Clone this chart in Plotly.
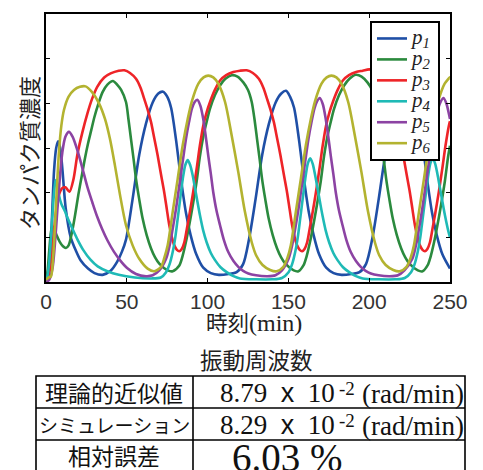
import plotly.graph_objects as go

# ---- data (time in min, concentration in axis units) ----
p1_t = [0,1.5,3,5,6.3,7.5,8.8,10.2,12.2,15.3,18.5,21.5,26,30,35,40,44,47,
        49.5,53.6,57.7,61.9,66,69.5,72.4,75,77.4,80.4,83.5,86.6,89.5,93,97.3,102,107,113,118,122,
        125.6,129.7,133.8,138,142.1,145.6,148.5,151,153.5,156.5,159.6,162.7,165.6,169,173.4,178,183,189,194,198,
        201.8,205.9,210,214.2,218.3,221.8,224.7,227.3,229.7,232.7,235.8,238.9,241.8,245.3,250]
p1_v = [0.05,0.3,0.9,2.5,3.0,3.15,3.0,2.5,1.65,1.0,0.7,0.48,0.3,0.2,0.16,0.25,0.45,0.68,
        0.95,1.86,2.85,3.55,4.02,4.22,4.26,4.15,3.9,3.2,2.31,1.55,1.05,0.62,0.32,0.2,0.16,0.18,0.22,0.4,
        0.95,1.86,2.85,3.55,4.02,4.22,4.28,4.15,3.9,3.2,2.31,1.55,1.05,0.62,0.32,0.2,0.16,0.18,0.22,0.4,
        0.95,1.86,2.85,3.55,4.02,4.22,4.26,4.15,3.9,3.2,2.31,1.55,1.05,0.62,0.3]

p2_t = [0,1,2,3,3.9,5,6.5,8.5,10.5,12.3,14,16,18,20,22,24,26,28,30,32.5,35,38,41.5,44,46.5,49.5,51,52.6,54.2,55.7,57.7,59.8,62.3,65,67.5,70.1,75.3,78.4,
        82.5,84.5,86.6,88.5,90.5,93.2,95.2,97.3,99.5,101.5,104.5,107.7,111,114.9,118.5,122.1,125,127.3,129,130.6,132.2,133.7,135.7,137.8,140.3,143,145.5,148.1,153.3,156.2,
        159.3,161.3,163.4,165.3,167.3,170,172,174.1,176.3,178.3,181.3,184.5,187.8,191.7,195.3,198.9,201.8,204.1,205.8,207.4,209,210.5,212.5,214.6,217.1,219.8,222.3,224.9,230.1,233,
        236.1,238.1,240.2,242.1,244.1,246.8,248.8,250]
p2_v = [0.0,0.25,0.7,1.1,1.24,1.2,1.05,0.9,0.8,0.76,0.82,1.1,1.5,1.95,2.35,2.75,3.1,3.4,3.7,4.0,4.25,4.42,4.5,4.42,4.3,4.03,3.65,3.2,2.75,2.31,1.85,1.42,1.05,0.75,0.55,0.41,0.26,0.24,
        0.37,0.58,0.9,1.25,1.65,2.25,2.8,3.25,3.6,3.88,4.18,4.4,4.55,4.63,4.6,4.47,4.3,4.03,3.65,3.2,2.75,2.31,1.85,1.42,1.05,0.75,0.55,0.41,0.26,0.24,
        0.37,0.58,0.9,1.25,1.65,2.25,2.8,3.25,3.6,3.88,4.18,4.4,4.55,4.64,4.6,4.47,4.3,4.03,3.65,3.2,2.75,2.31,1.85,1.42,1.05,0.75,0.55,0.41,0.26,0.24,
        0.37,0.58,0.9,1.25,1.65,2.25,2.8,3.05]

p3_t = [0,2,4,6,8,10,12,14.5,17,19.4,22.5,25.6,28.5,31.7,36,40,45,48.5,52,55.7,58.5,60.8,63,65,67,69.1,71.2,73.2,74.8,76.3,77.9,79.4,81,82.5,84,85.6,87.2,88.7,91,93.2,95.2,97.3,99.4,101.5,104.5,107.7,111.5,115.9,120,124.2,
        128,131.7,134.5,136.8,139,141,143,145.1,147.2,149.2,150.8,152.3,153.9,155.4,157,158.5,160,161.6,163.2,164.7,167,169.2,171.2,173.3,175.4,177.5,180.5,183.7,187.5,191.9,196,200.2,
        204,207.7,210.5,212.8,215,217,219,221.1,223.2,225.2,226.8,228.3,229.9,231.4,233,234.5,236,237.6,239.2,240.7,243,245.2,247.2,249.3,250]
p3_v = [0.0,0.2,0.8,1.5,1.95,2.1,2.12,2.02,2.3,2.85,3.35,3.77,4.1,4.37,4.58,4.67,4.73,4.74,4.68,4.55,4.35,4.1,3.85,3.58,3.22,2.83,2.4,2.0,1.62,1.27,1.0,0.82,0.72,0.69,0.74,0.89,1.2,1.5,2.0,2.53,3.05,3.5,3.8,4.03,4.3,4.51,4.63,4.7,4.73,4.74,
        4.68,4.55,4.35,4.1,3.85,3.58,3.22,2.83,2.4,2.0,1.62,1.27,1.0,0.82,0.72,0.69,0.74,0.89,1.2,1.5,2.0,2.53,3.05,3.5,3.8,4.03,4.3,4.51,4.63,4.7,4.73,4.76,
        4.68,4.55,4.35,4.1,3.85,3.58,3.22,2.83,2.4,2.0,1.62,1.27,1.0,0.82,0.72,0.69,0.74,0.89,1.2,1.5,2.0,2.53,3.05,3.5,3.6]

p4_t = [0,1,2,3,4,5,6,7,8,9.5,11.5,13.5,16,19.5,23,27.5,32,38,45,55,65,71,
        74.3,76.5,78.4,80,81.5,83,84.6,86.2,87.7,89.2,90.7,92.2,93.8,95.3,97.3,99.4,102,104.6,108,111.8,116,120,130,140,146,
        150.1,152.3,154.2,155.8,157.3,158.8,160.4,162,163.5,165,166.5,168,169.6,171.1,173.1,175.2,177.8,180.4,183.8,187.6,191.8,196,206,216,222,
        225.9,228.1,230,231.6,233.1,234.6,236.2,237.8,239.3,240.8,242.3,243.8,245.4,246.9,248.9,250]
p4_v = [0.02,0.15,0.45,0.95,1.5,2.0,2.28,2.2,1.95,1.75,1.6,1.42,1.22,0.95,0.72,0.5,0.35,0.24,0.16,0.1,0.08,0.1,
        0.22,0.4,0.67,1.0,1.42,1.85,2.3,2.62,2.73,2.62,2.4,2.1,1.78,1.49,1.15,0.89,0.65,0.49,0.33,0.22,0.13,0.08,0.06,0.06,0.09,
        0.22,0.4,0.67,1.0,1.42,1.85,2.3,2.65,2.77,2.65,2.4,2.1,1.78,1.49,1.15,0.89,0.65,0.49,0.33,0.22,0.13,0.08,0.06,0.06,0.09,
        0.22,0.4,0.67,1.0,1.42,1.85,2.3,2.65,2.77,2.65,2.4,2.1,1.78,1.49,1.15,1.0]

p5_t = [0,2,4,5.5,7,8.5,10.1,12,14.2,16.5,19.4,22.5,25.6,28.7,31.7,34.8,37.9,42,46,50,55.7,61.9,66,70.1,
        74.3,76.4,78.4,80.5,82.5,84.6,86.6,88.5,90.3,92,93.6,95.5,97.3,98.9,100.4,102,103.5,105.5,107.7,110,112.8,116,119,122,125.2,130,137,142,146,
        150.1,152.2,154.2,156.3,158.3,160.4,162.4,164.3,166.1,167.8,169.4,171.3,173.1,174.7,176.2,177.8,179.3,181.3,183.5,185.8,188.6,191.8,194.8,197.8,201,205.8,212.8,217.8,221.8,
        226.7,228.8,230.8,232.9,234.9,237,239,240.9,242.7,244.4,246,247.9,249.7,250]
p5_v = [0.0,0.05,0.3,0.85,1.6,2.3,2.9,3.25,3.36,3.25,2.95,2.55,2.13,1.78,1.46,1.18,0.94,0.68,0.48,0.32,0.18,0.13,0.15,0.26,
        0.52,0.8,1.19,1.65,2.16,2.7,3.2,3.58,3.88,4.03,4.08,3.95,3.65,3.25,2.83,2.42,2.01,1.6,1.27,0.95,0.67,0.47,0.34,0.25,0.19,0.15,0.13,0.15,0.26,
        0.52,0.8,1.19,1.65,2.16,2.7,3.2,3.58,3.88,4.05,4.12,3.98,3.65,3.25,2.83,2.42,2.01,1.6,1.27,0.95,0.67,0.47,0.34,0.25,0.19,0.15,0.13,0.15,0.26,
        0.52,0.8,1.19,1.65,2.16,2.7,3.2,3.58,3.88,4.05,4.12,3.98,3.7,3.65]

p6_t = [0,1.5,3,4.5,6,8,9.5,11.1,14,17.3,21,24.5,28.5,32.8,36.5,39.6,42.7,45.8,49.5,53.6,57.7,62.9,67,71.2,
        73.3,75.3,78.4,81.5,84.6,87.7,90.3,94.3,97.5,100.4,103.5,106.6,110.8,114.9,119,123.1,127.3,130,134,138.7,142.7,146.9,
        149.5,151.5,154.6,157.7,160.8,163.9,166.5,170.5,173.7,176.6,179.7,182.8,187,191.1,195.2,199.3,203.5,206.2,210.2,214.9,218.9,223.1,
        225.7,227.7,230.8,233.9,237,240.1,242.7,246.7,249.9,250]
p6_v = [0.05,0.1,0.12,0.6,1.6,2.9,3.5,3.85,4.15,4.3,4.37,4.38,4.25,4.0,3.65,3.2,2.6,1.95,1.27,0.82,0.52,0.3,0.24,0.34,
        0.55,0.82,1.57,2.31,3.06,3.65,4.05,4.44,4.58,4.62,4.58,4.44,4.03,3.28,2.46,1.57,0.89,0.6,0.38,0.27,0.24,0.34,
        0.55,0.82,1.57,2.31,3.06,3.65,4.05,4.44,4.58,4.62,4.58,4.44,4.03,3.28,2.46,1.57,0.89,0.6,0.38,0.27,0.24,0.34,
        0.55,0.82,1.57,2.31,3.06,3.65,4.05,4.44,4.58,4.58]

series_names = ["1", "2", "3", "4", "5", "6"]
series_colors = ["#1f4fa6", "#2b8a3e", "#ee2428", "#1fbab6", "#8c43a3", "#b3b330"]
series_t = [p1_t, p2_t, p3_t, p4_t, p5_t, p6_t]
series_v = [p1_v, p2_v, p3_v, p4_v, p5_v, p6_v]

x_ticks = [0, 50, 100, 150, 200, 250]
y_ticks = [1, 2, 3, 4, 5]

table_title = "振動周波数"
row_labels = ["理論的近似値", "シミュレーション", "相対誤差"]
freq_values = ["8.79", "8.29"]
freq_exponent = "-2"
freq_unit = "(rad/min)"
rel_error = "6.03"

# ---- geometry helpers (pixel -> paper) ----
W, H = 483, 470
L, R, T, B = 46, 450, 14, 282
def px(x):
    return (x - L) / (R - L)
def py(y):
    return (B - y) / (B - T)

fig = go.Figure()
for name, col, t, v in zip(series_names, series_colors, series_t, series_v):
    fig.add_trace(go.Scatter(
        x=t, y=v, mode="lines", line=dict(color=col, width=2.6, shape="spline", smoothing=0.8),
        name=f"<span style='font-size:21px'><i>p<sub>{name}</sub></i></span>"))

JP = "Noto Sans CJK JP"
SERIF = "Liberation Serif"
SANS = "Liberation Sans"

fig.update_layout(
    width=W, height=H,
    margin=dict(l=L, r=W - R, t=T, b=H - B),
    paper_bgcolor="white", plot_bgcolor="white",
    showlegend=True,
    legend=dict(x=px(370), y=py(21), xanchor="left", yanchor="top",
                bgcolor="white", bordercolor="black", borderwidth=2,
                font=dict(family=SERIF, size=13.8, color="#222"),
                tracegroupgap=0, itemwidth=30),
    xaxis=dict(range=[0, 250], tickvals=x_ticks, ticks="inside", ticklen=4, tickwidth=1,
               tickcolor="black", showline=True, linecolor="black", linewidth=1.5,
               mirror="ticks", showgrid=False, zeroline=False,
               tickfont=dict(family=SANS, size=21, color="#333")),
    yaxis=dict(range=[0, 6], tickvals=y_ticks, showticklabels=False, ticks="inside", ticklen=4,
               tickwidth=1, tickcolor="black", showline=True, linecolor="black", linewidth=1.5,
               mirror="ticks", showgrid=False, zeroline=False),
)

ann = []
# axis titles
ann.append(dict(x=px(254), y=py(321), xref="paper", yref="paper", showarrow=False,
                text=f"時刻<span style='font-family:{SERIF};font-size:24px'>(min)</span>",
                font=dict(family=JP, size=21.5, color="#222"), xanchor="center", yanchor="middle"))
ann.append(dict(x=px(28), y=py(153), xref="paper", yref="paper", showarrow=False,
                text="タンパク質濃度", textangle=-90,
                font=dict(family=JP, size=22, color="#222"), xanchor="center", yanchor="middle"))
# table title
ann.append(dict(x=px(256), y=py(359), xref="paper", yref="paper", showarrow=False,
                text=table_title, font=dict(family=JP, size=22.5, color="#222"),
                xanchor="center", yanchor="middle"))
# table rows
row_y = [392, 424, 455]
row_sizes = [23, 19, 23]
for lab, yy, fs in zip(row_labels, row_y, row_sizes):
    ann.append(dict(x=px(114), y=py(yy), xref="paper", yref="paper", showarrow=False,
                    text=lab, font=dict(family=JP, size=fs, color="#111"),
                    xanchor="center", yanchor="middle"))
for val, yy in zip(freq_values, row_y[:2]):
    ann.append(dict(x=px(218), y=py(yy + 1), xref="paper", yref="paper", showarrow=False,
                    text=f"{val}&nbsp; <span style='font-family:{SANS}'>x</span>&nbsp; 10",
                    font=dict(family=SERIF, size=27, color="#111"),
                    xanchor="left", yanchor="middle"))
    ann.append(dict(x=px(337), y=py(yy - 4), xref="paper", yref="paper", showarrow=False,
                    text=freq_exponent, font=dict(family=SERIF, size=19, color="#111"),
                    xanchor="left", yanchor="middle"))
    ann.append(dict(x=px(360), y=py(yy + 2), xref="paper", yref="paper", showarrow=False,
                    text=freq_unit, font=dict(family=SERIF, size=27, color="#111"),
                    xanchor="left", yanchor="middle"))
ann.append(dict(x=px(287), y=py(457), xref="paper", yref="paper", showarrow=False,
                text=f"{rel_error} %", font=dict(family=SERIF, size=39, color="#111"),
                xanchor="center", yanchor="middle"))
fig.update_layout(annotations=ann)

# table frame
shapes = []
lw = 1.6
tx0, tx1, tcol = px(36), px(465), px(193)
ty = [py(376), py(408), py(440), py(472)]
shapes.append(dict(type="rect", xref="paper", yref="paper", x0=tx0, x1=tx1, y0=ty[3], y1=ty[0],
                   line=dict(color="black", width=lw)))
for yline in ty[1:3]:
    shapes.append(dict(type="line", xref="paper", yref="paper", x0=tx0, x1=tx1, y0=yline, y1=yline,
                       line=dict(color="black", width=lw)))
shapes.append(dict(type="line", xref="paper", yref="paper", x0=tcol, x1=tcol, y0=ty[3], y1=ty[0],
                   line=dict(color="black", width=lw)))
fig.update_layout(shapes=shapes)

fig.write_html("out.html", config={"displayModeBar": False},
               post_script="document.body.style.margin='0px';")
